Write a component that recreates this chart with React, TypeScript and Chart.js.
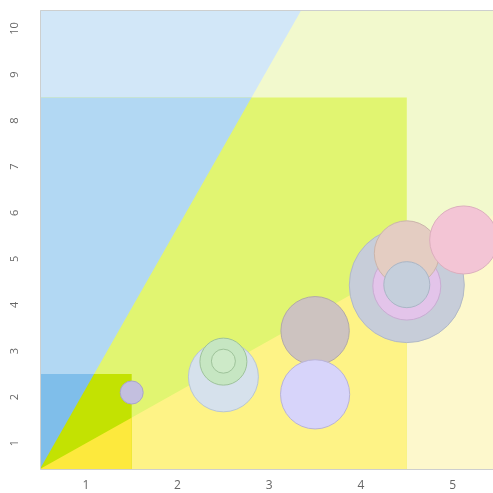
import React, { useEffect, useRef } from "react";
import { Chart, registerables } from "chart.js";

Chart.register(...registerables);

// ---- axes ----
const xTicks = [1, 2, 3, 4, 5];
const yTicks = [1, 2, 3, 4, 5, 6, 7, 8, 9, 10];
const xRange = [0.5, 5.44];
const yRange = [0.44, 10.4];

// ---- background zones (nested rectangles from the lower-left corner) ----
const zoneRectX = [5.44, 4.5, 1.5];
const zoneRectY = [10.4, 8.5, 2.5];
const steepLineEnd = [3.35, 10.4];
const shallowLineEnd = [5.44, 5.95];
const zoneBlue = ["#d2e7f8", "#b2d8f3", "#7fbeea"];
const zoneLime = ["#f2f9cd", "#e1f571", "#c3e202"];
const zoneYellow = ["#fdf8cc", "#fef386", "#fde93d"];

// ---- bubbles (in draw order) ----
const bubbleX = [1.5, 2.5, 2.5, 2.5, 3.5, 3.5, 4.5, 4.5, 4.5, 4.5, 5.12];
const bubbleY = [2.1, 2.44, 2.77, 2.78, 3.44, 2.06, 4.43, 4.41, 5.12, 4.44, 5.41];
const bubbleR = [11.5, 35, 23.5, 12, 34.2, 34.6, 57.5, 34, 32.5, 23, 34];
const bubbleFill = [
  "#c3bfdf", "#d6e1ec", "#c6e6c2", "#cdeac8", "#cdc3c0", "#d7d4fa",
  "#c7cdd9", "#e3c4ea", "#e4cdc2", "#c5cfdc", "#f3c5d5",
];
const bubbleEdge = [
  "#a9a6c8", "#b8c6d4", "#9ec39a", "#9ec39a", "#b3aaa8", "#b9b3d8",
  "#b2b9c6", "#c9acd3", "#cbb5ab", "#aab6c6", "#dcaebe",
];

const zonesPlugin = {
  id: "zones",
  beforeDatasetsDraw(chart: any) {
    const { ctx, chartArea, scales } = chart;
    const x = scales.x;
    const y = scales.y;
    const px = (v: number) => x.getPixelForValue(v);
    const py = (v: number) => y.getPixelForValue(v);
    const x0 = xRange[0], y0 = yRange[0], xm = xRange[1], ym = yRange[1];
    const poly = (pts: number[][], color: string) => {
      ctx.beginPath();
      pts.forEach((p, i) => {
        if (i === 0) ctx.moveTo(px(p[0]), py(p[1]));
        else ctx.lineTo(px(p[0]), py(p[1]));
      });
      ctx.closePath();
      ctx.fillStyle = color;
      ctx.fill();
    };
    ctx.save();
    ctx.beginPath();
    ctx.rect(chartArea.left, chartArea.top, chartArea.right - chartArea.left, chartArea.bottom - chartArea.top);
    ctx.clip();
    for (let i = 0; i < zoneRectX.length; i++) {
      ctx.save();
      const l = px(x0), r = px(zoneRectX[i]), t = py(zoneRectY[i]), b = py(y0);
      ctx.beginPath();
      ctx.rect(l, t, r - l, b - t);
      ctx.clip();
      poly([[x0, y0], [xm, y0], [xm, ym], [x0, ym]], zoneLime[i]);
      poly([[x0, y0], steepLineEnd, [x0 - 1, ym + 1]], zoneBlue[i]);
      poly([[x0, y0], shallowLineEnd, [xm + 1, shallowLineEnd[1] + 1.2], [xm + 1, y0 - 1]], zoneYellow[i]);
      ctx.restore();
    }
    ctx.restore();
  },
  afterDraw(chart: any) {
    const { ctx, chartArea, scales } = chart;
    const x = scales.x;
    const y = scales.y;
    ctx.save();
    // frame
    ctx.strokeStyle = "#cdcfcf";
    ctx.lineWidth = 1;
    ctx.beginPath();
    ctx.moveTo(chartArea.right, chartArea.top + 0.5);
    ctx.lineTo(chartArea.left + 0.5, chartArea.top + 0.5);
    ctx.lineTo(chartArea.left + 0.5, chartArea.bottom + 0.5);
    ctx.lineTo(chartArea.right, chartArea.bottom + 0.5);
    ctx.stroke();
    // tick labels
    ctx.fillStyle = "#666";
    ctx.textAlign = "center";
    ctx.textBaseline = "middle";
    ctx.font = '11px "Open Sans"';
    yTicks.forEach((v) => {
      ctx.save();
      ctx.translate(15, y.getPixelForValue(v));
      ctx.rotate(-Math.PI / 2);
      ctx.fillText(String(v), 0, 0);
      ctx.restore();
    });
    ctx.font = '12px "Open Sans"';
    xTicks.forEach((v) => {
      ctx.fillText(String(v), x.getPixelForValue(v), chartArea.bottom + 17);
    });
    ctx.restore();
  },
};

export default function App() {
  const ref = useRef<HTMLCanvasElement | null>(null);
  useEffect(() => {
    if (!ref.current) return;
    const chart = new Chart(ref.current, {
      type: "bubble",
      data: {
        datasets: [
          {
            data: bubbleX.map((v, i) => ({ x: v, y: bubbleY[i], r: bubbleR[i] })),
            backgroundColor: bubbleFill,
            borderColor: bubbleEdge,
            borderWidth: 1,
            hoverRadius: 0,
            clip: false,
          } as any,
        ],
      },
      options: {
        animation: false,
        responsive: true,
        maintainAspectRatio: false,
        devicePixelRatio: 1,
        events: [],
        layout: { autoPadding: false, padding: { top: 10, left: 0, right: 0, bottom: 0 } },
        plugins: { legend: { display: false }, tooltip: { enabled: false } },
        scales: {
          x: {
            type: "linear",
            min: xRange[0],
            max: xRange[1],
            grid: { display: false },
            border: { display: false },
            ticks: { display: false },
            afterFit: (s: any) => { s.height = 24; },
          },
          y: {
            type: "linear",
            min: yRange[0],
            max: yRange[1],
            grid: { display: false },
            border: { display: false },
            ticks: { display: false },
            afterFit: (s: any) => { s.width = 40; },
          },
        },
      },
      plugins: [zonesPlugin],
    });
    return () => chart.destroy();
  }, []);
  return (
    <div style={{ position: "absolute", left: 0, top: 0, width: 493, height: 493, background: "#fff" }}>
      <canvas ref={ref} />
    </div>
  );
}
